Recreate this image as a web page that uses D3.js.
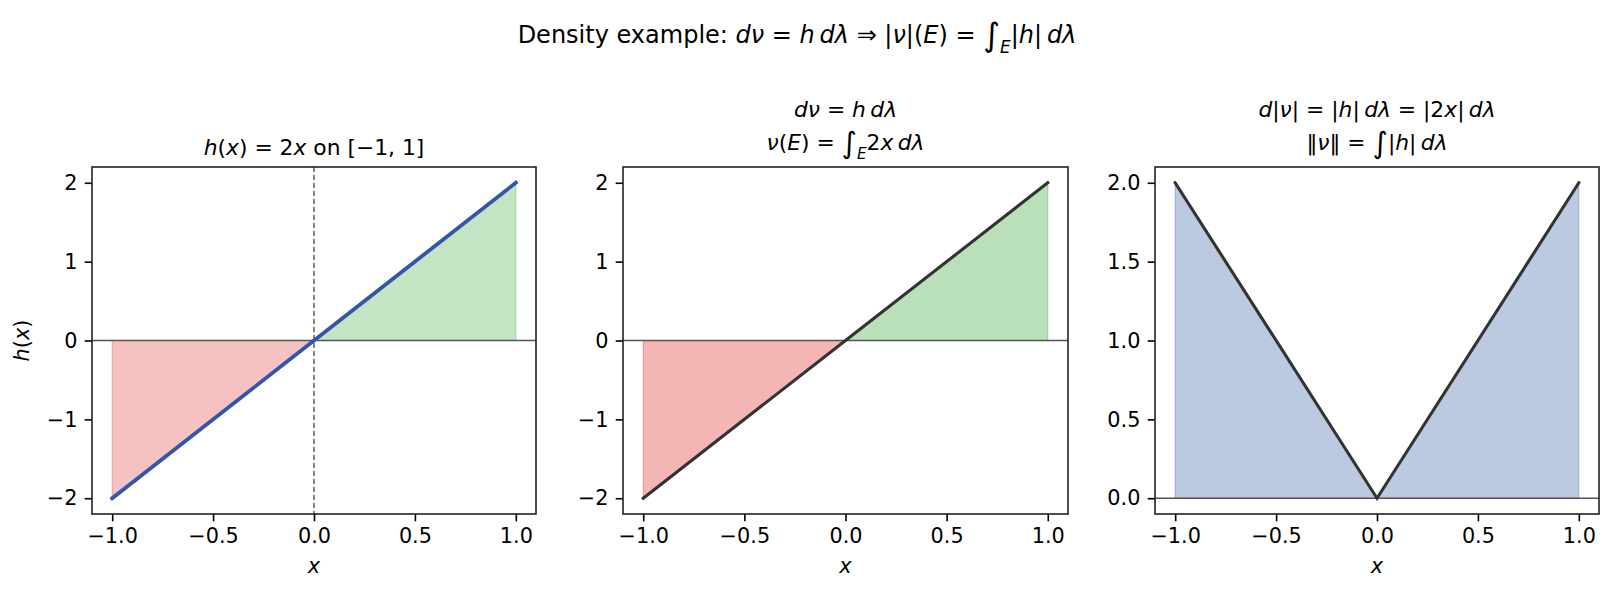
<!DOCTYPE html>
<html>
<head>
<meta charset="utf-8">
<script src="https://cdn.jsdelivr.net/npm/d3@7"></script>
<style>
  body { margin: 0; background: #fff; }
  svg { display: block; font-family: "DejaVu Sans", sans-serif; }
  .tick text { font-size: 20.8px; fill: #000; }
  .tick line { stroke: #000; stroke-width: 1.6; }
</style>
</head>
<body>
<script>
// data: h(x) = 2x sampled at its breakpoints, plus |h|
const X = [-1, 0, 1];
const H = [-2, 0, 2];
const ABS_H = [2, 0, 2];
const X_TICKS = [-1, -0.5, 0, 0.5, 1];
const H_TICKS = [-2, -1, 0, 1, 2];
const ABS_TICKS = [0, 0.5, 1, 1.5, 2];

const width = 1614, height = 593;
const plotTop = 167, plotBottom = 514;

// math-ish titles as [text, style] runs (i = italic, int = integral, sub = subscript)
const SUPTITLE = [["Density example: "], ["d", "i"], ["ν", "i"], [" = "], ["h", "i"], ["\u2009"], ["d", "i"], ["λ", "i"],
  [" ⇒ |"], ["ν", "i"], ["|("], ["E", "i"], [") = "], ["∫", "int"], ["E", "sub"], ["|"], ["h", "i"], ["|\u2009"], ["d", "i"], ["λ", "i"]];
const TITLE_1 = [["h", "i"], ["("], ["x", "i"], [") = 2"], ["x", "i"], [" on [−1, 1]"]];
const TITLE_2A = [["d", "i"], ["ν", "i"], [" = "], ["h", "i"], ["\u2009"], ["d", "i"], ["λ", "i"]];
const TITLE_2B = [["ν", "i"], ["("], ["E", "i"], [") = "], ["∫", "int"], ["E", "sub"], ["2"], ["x", "i"], ["\u2009"], ["d", "i"], ["λ", "i"]];
const TITLE_3A = [["d", "i"], ["|"], ["ν", "i"], ["| = |"], ["h", "i"], ["|\u2009"], ["d", "i"], ["λ", "i"], [" = |2"], ["x", "i"], ["|\u2009"], ["d", "i"], ["λ", "i"]];
const TITLE_3B = [["‖"], ["ν", "i"], ["‖ = "], ["∫", "int"], ["|"], ["h", "i"], ["|\u2009"], ["d", "i"], ["λ", "i"]];

const svg = d3.select("body").append("svg")
  .attr("width", width).attr("height", height);

const mathText = (x, y, runs, size) => {
  const t = svg.append("text")
    .attr("x", x).attr("y", y)
    .attr("text-anchor", "middle")
    .attr("font-size", size);
  let shift = 0;
  runs.forEach(([s, st]) => {
    let want = st === "sub" ? size * 0.4 : st === "int" ? size * 0.12 : 0;
    const sp = t.append("tspan").text(s).attr("dy", want - shift);
    shift = want;
    if (st === "i" || st === "sub") sp.attr("font-style", "italic");
    if (st === "sub") sp.attr("font-size", size * 0.7);
    if (st === "int") sp.attr("font-size", size * 1.35);
  });
  return t;
};

const panels = [
  { left: 92, right: 536, ydom: [-2.2, 2.2], yticks: H_TICKS, yfmt: d3.format("d"), vals: H,
    lineColor: "#3355aa", lineW: 3.8, neg: ["#e02b2b", 0.29], pos: ["#2ca02c", 0.28], vline: true,
    titles: [[TITLE_1, 155]], ylabel: true },
  { left: 623, right: 1068, ydom: [-2.2, 2.2], yticks: H_TICKS, yfmt: d3.format("d"), vals: H,
    lineColor: "#333333", lineW: 3.1, neg: ["#e02b2b", 0.35], pos: ["#2ca02c", 0.33],
    titles: [[TITLE_2A, 117], [TITLE_2B, 150]] },
  { left: 1155, right: 1599, ydom: [-0.1, 2.1], yticks: ABS_TICKS, yfmt: d3.format(".1f"), vals: ABS_H,
    lineColor: "#333333", lineW: 3.1, all: ["#4c72b0", 0.38],
    titles: [[TITLE_3A, 117], [TITLE_3B, 150]] }
];

mathText(797, 43, SUPTITLE, 24);

panels.forEach(p => {
  const x = d3.scaleLinear().domain([-1.1, 1.1]).range([p.left, p.right]);
  const y = d3.scaleLinear().domain(p.ydom).range([plotBottom, plotTop]);
  const pts = X.map((xv, i) => ({ x: xv, y: p.vals[i] }));
  const g = svg.append("g");

  const area = d3.area().x(d => x(d.x)).y0(y(0)).y1(d => y(d.y));
  const fill = (data, [c, a]) => g.append("path")
    .attr("d", area(data))
    .attr("fill", c).attr("fill-opacity", a)
    .attr("stroke", c).attr("stroke-opacity", a).attr("stroke-width", 1.2);
  if (p.neg) fill(pts.filter(d => d.x <= 0), p.neg);
  if (p.pos) fill(pts.filter(d => d.x >= 0), p.pos);
  if (p.all) fill(pts, p.all);

  // zero line
  g.append("line")
    .attr("x1", p.left).attr("x2", p.right)
    .attr("y1", y(0)).attr("y2", y(0))
    .attr("stroke", "#555").attr("stroke-width", 1.7);

  if (p.vline) {
    g.append("line")
      .attr("x1", x(0)).attr("x2", x(0))
      .attr("y1", plotTop).attr("y2", plotBottom)
      .attr("stroke", "#666").attr("stroke-width", 1.6)
      .attr("stroke-dasharray", "5,3");
  }

  g.append("path")
    .attr("d", d3.line().x(d => x(d.x)).y(d => y(d.y))(pts))
    .attr("fill", "none")
    .attr("stroke", p.lineColor).attr("stroke-width", p.lineW)
    .attr("stroke-linejoin", "miter").attr("stroke-linecap", "square");

  // axes
  const xAxis = g.append("g")
    .attr("transform", `translate(0,${plotBottom})`)
    .call(d3.axisBottom(x).tickValues(X_TICKS).tickFormat(d3.format(".1f"))
      .tickSize(7.3).tickPadding(7.3).tickSizeOuter(0));
  xAxis.select(".domain").remove();

  const yAxis = g.append("g")
    .attr("transform", `translate(${p.left},0)`)
    .call(d3.axisLeft(y).tickValues(p.yticks).tickFormat(p.yfmt)
      .tickSize(7.3).tickPadding(7.3).tickSizeOuter(0));
  yAxis.select(".domain").remove();
  xAxis.attr("font-family", null).attr("font-size", null);
  yAxis.attr("font-family", null).attr("font-size", null);

  g.append("rect")
    .attr("x", p.left).attr("y", plotTop)
    .attr("width", p.right - p.left).attr("height", plotBottom - plotTop)
    .attr("fill", "none").attr("stroke", "#222").attr("stroke-width", 1.6);

  // x label
  svg.append("text")
    .attr("x", (p.left + p.right) / 2).attr("y", 573)
    .attr("text-anchor", "middle").attr("font-size", 20.8)
    .attr("font-style", "italic").text("x");

  p.titles.forEach(([runs, yy]) => mathText((p.left + p.right) / 2, yy, runs, 21.8));

  if (p.ylabel) {
    const t = svg.append("text")
      .attr("transform", `translate(29,${(plotTop + plotBottom) / 2}) rotate(-90)`)
      .attr("text-anchor", "middle").attr("font-size", 20.8);
    t.append("tspan").attr("font-style", "italic").text("h");
    t.append("tspan").text("(");
    t.append("tspan").attr("font-style", "italic").text("x");
    t.append("tspan").text(")");
  }
});
</script>
</body>
</html>
